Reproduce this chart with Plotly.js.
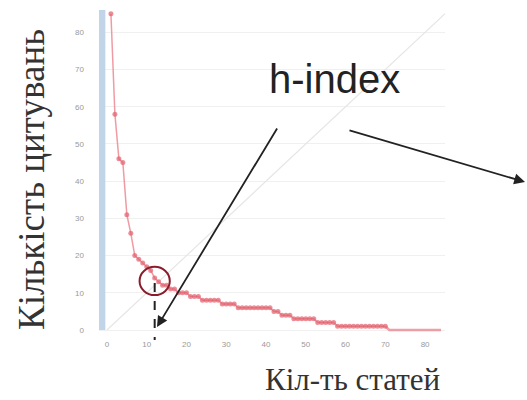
<!DOCTYPE html>
<html><head><meta charset="utf-8">
<script src="https://cdn.plot.ly/plotly-3.0.1.min.js"></script>
<style>html,body{margin:0;padding:0;background:#fff}</style>
</head><body><div id="chart" style="width:527px;height:400px"></div>
<script>
// citations per paper, ranked in descending order (rank 1..84)
const citations = [85,58,46,45,31,26,20,19,18,17,16,14,13,12,12,11,11,10,10,10,
  9,9,9,8,8,8,8,8,7,7,7,7,6,6,6,6,6,6,6,6,6,5,5,4,4,4,3,3,3,3,3,3,
  2,2,2,2,2,1,1,1,1,1,1,1,1,1,1,1,1,1,0,0,0,0,0,0,0,0,0,0,0,0,0,0];
const ranks = citations.map((_, i) => i + 1);
const diagX = [0, 85];
const diagY = [0, 85];
const barX = [-1.2];
const barY = [86];
const hIndex = 12;
const hIndexY = 13.2;
const xTicks = [0,10,20,30,40,50,60,70,80];
const yTicks = [0,10,20,30,40,50,60,70,80];

const nz = citations.filter(v => v > 0).length;

const traces = [
  {type:'bar', x:barX, y:barY, width:1.6, marker:{color:'#c2d5e8'}, hoverinfo:'skip'},
  {type:'scatter', mode:'lines', x:diagX, y:diagY, line:{color:'#e6e6e6', width:1.2}},
  {type:'scatter', mode:'lines', x:ranks.slice(nz-1), y:citations.slice(nz-1),
   line:{color:'rgba(232,120,130,0.7)', width:2.5}},
  {type:'scatter', mode:'lines+markers', x:ranks.slice(0,nz), y:citations.slice(0,nz),
   line:{color:'rgba(236,130,140,0.8)', width:1.5},
   marker:{color:'rgba(225,95,108,0.7)', size:5}}
];

const layout = {
  width:527, height:400,
  margin:{l:99, r:82, t:10, b:67},
  paper_bgcolor:'#fff', plot_bgcolor:'#fff',
  showlegend:false,
  xaxis:{range:[-2,85], tickvals:xTicks, showgrid:false, zeroline:false, showline:false,
    tickfont:{family:'Liberation Sans', size:8, color:'#9a9a9a'}, ticks:'', ticklabelstandoff:5},
  yaxis:{range:[-0.8,86], tickvals:yTicks, showgrid:true, gridcolor:'#f0f0f0', zeroline:false, showline:false,
    tickfont:{family:'Liberation Sans', size:8, color:'#9a9a9a'}, ticks:'', ticklabelstandoff:14},
  shapes:[
    {type:'circle', xref:'x', yref:'y', x0:hIndex-3.8, x1:hIndex+3.8, y0:hIndexY-3.8, y1:hIndexY+3.8,
     line:{color:'#8a1c2c', width:2}},
    {type:'line', xref:'x', yref:'paper', x0:hIndex, x1:hIndex, y0:0.155, y1:-0.022,
     line:{color:'#222', width:2, dash:'dash'}}
  ],
  annotations:[
    {xref:'paper', yref:'paper', x:(334-99)/346, y:(333-79)/323, text:'h-index', showarrow:false,
     xanchor:'center', yanchor:'middle', font:{family:'Liberation Sans', size:40, color:'#222'}},
    {xref:'paper', yref:'paper', x:(157-99)/346, y:(333-327)/323, ax:278-157, ay:127-327,
     axref:'pixel', ayref:'pixel', showarrow:true, arrowhead:2, arrowsize:1.2, arrowwidth:1.8, arrowcolor:'#222', text:''},
    {xref:'paper', yref:'paper', x:(525-99)/346, y:(333-182)/323, ax:348-525, ay:130-182,
     axref:'pixel', ayref:'pixel', showarrow:true, arrowhead:2, arrowsize:1.2, arrowwidth:1.8, arrowcolor:'#222', text:''},
    {xref:'paper', yref:'paper', x:(352-99)/346, y:(333-380)/323, text:'Кіл-ть статей', showarrow:false,
     font:{family:'Liberation Serif', size:31, color:'#333'}, xanchor:'center', yanchor:'middle'},
    {xref:'paper', yref:'paper', x:(31-99)/346, y:(333-180)/323, text:'Кількість цитувань', showarrow:false,
     textangle:-90, font:{family:'Liberation Serif', size:37, color:'#333'}, xanchor:'center', yanchor:'middle'}
  ]
};
Plotly.newPlot('chart', traces, layout, {staticPlot:true});
</script></body></html>
